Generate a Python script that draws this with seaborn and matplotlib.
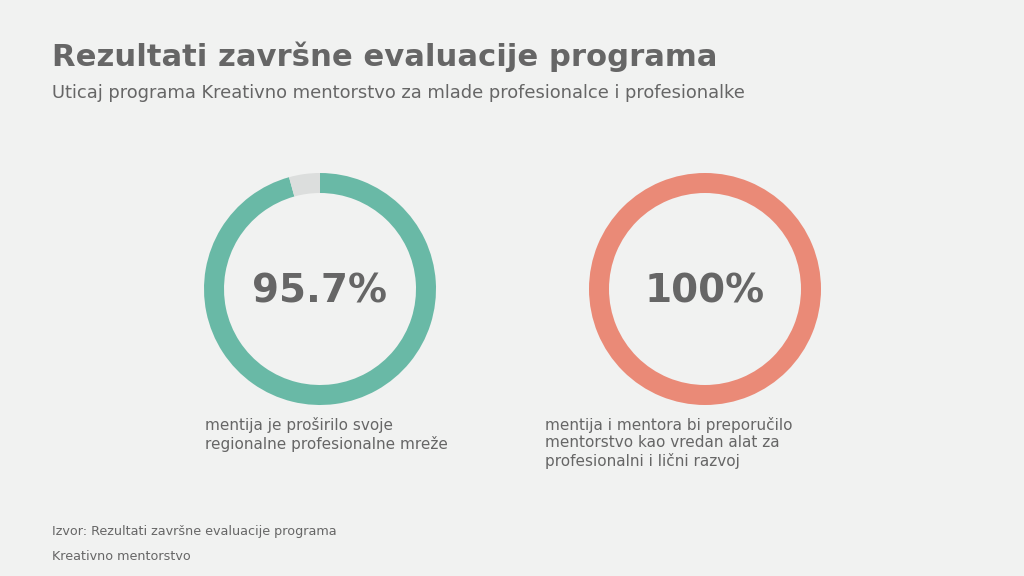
import matplotlib
matplotlib.use("Agg")
import matplotlib.pyplot as plt
import seaborn as sns

# Chart data
labels = ["mentija je proširilo svoje\nregionalne profesionalne mreže",
          "mentija i mentora bi preporučilo\nmentorstvo kao vredan alat za\nprofesionalni i lični razvoj"]
values = [95.7, 100.0]
center_text = ["95.7%", "100%"]
colors = ["#69b9a6", "#ea8a77"]

title = "Rezultati završne evaluacije programa"
subtitle = "Uticaj programa Kreativno mentorstvo za mlade profesionalce i profesionalke"
source = "Izvor: Rezultati završne evaluacije programa"
org = "Kreativno mentorstvo"

bg = "#f1f2f1"
text_col = "#666666"
rest_col = "#dcdedd"

sns.set_theme(style="white")
plt.rcParams['font.family'] = ['DejaVu Sans']

fig = plt.figure(figsize=(10.24, 5.76), dpi=100)
fig.patch.set_facecolor(bg)

W, H = 1024, 576
centers = [(320, 289), (705, 289)]
R = 116
label_x = [205, 545]

for i, (cx, cy) in enumerate(centers):
    ax = fig.add_axes([(cx - R) / W, (H - cy - R) / H, 2 * R / W, 2 * R / H])
    ax.set_facecolor(bg)
    v = values[i]
    parts = [v, 100 - v] if v < 100 else [v]
    cols = [colors[i], rest_col] if v < 100 else [colors[i]]
    ax.pie(parts, colors=cols, startangle=90, counterclock=False,
           radius=1.0, wedgeprops=dict(width=20 / R, linewidth=0))
    ax.set_xlim(-1, 1)
    ax.set_ylim(-1, 1)
    ax.set_aspect("equal")
    ax.axis("off")
    ax.text(0, -0.025, center_text[i], ha="center", va="center",
            fontsize=28, fontweight="bold", color=text_col)
    fig.text(label_x[i] / W, 1 - 417 / H, labels[i], ha="left", va="top",
             fontsize=11, color=text_col, linespacing=1.2)

fig.text(52 / W, 1 - 57 / H, title, ha="left", va="center",
         fontsize=22.1, fontweight="bold", color=text_col)
fig.text(52 / W, 1 - 93 / H, subtitle, ha="left", va="center",
         fontsize=12.9, color=text_col)
fig.text(52 / W, 1 - 532 / H, source, ha="left", va="center",
         fontsize=9.2, color=text_col)
fig.text(52 / W, 1 - 557 / H, org, ha="left", va="center",
         fontsize=9.2, color=text_col)

fig.savefig("out.png", dpi=100, facecolor=bg)
